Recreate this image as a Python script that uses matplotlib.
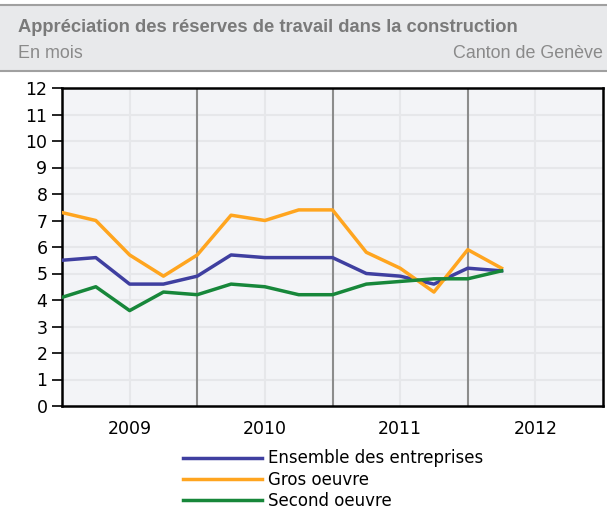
import matplotlib.pyplot as plt
from matplotlib.patches import Rectangle
from matplotlib.lines import Line2D

years = ['2009', '2010', '2011', '2012']
quarters = list(range(14))  # trimestres depuis T1 2009
ensemble = [5.5, 5.6, 4.6, 4.6, 4.9, 5.7, 5.6, 5.6, 5.6, 5.0, 4.9, 4.6, 5.2, 5.1]
gros = [7.3, 7.0, 5.7, 4.9, 5.7, 7.2, 7.0, 7.4, 7.4, 5.8, 5.2, 4.3, 5.9, 5.2]
second = [4.1, 4.5, 3.6, 4.3, 4.2, 4.6, 4.5, 4.2, 4.2, 4.6, 4.7, 4.8, 4.8, 5.1]

fig = plt.figure(figsize=(6.07, 5.09), dpi=100)

# bandeau du titre
fig.patches.append(Rectangle((0, 1 - 71 / 509), 1, 66 / 509, transform=fig.transFigure,
                             facecolor='#e8e9eb', edgecolor='none'))
fig.add_artist(Line2D([0, 1], [1 - 5 / 509] * 2, color='#a0a0a0', lw=1.5))
fig.add_artist(Line2D([0, 1], [1 - 71 / 509] * 2, color='#a0a0a0', lw=1.5))
fig.text(18 / 607, 1 - 27 / 509, 'Appréciation des réserves de travail dans la construction',
         fontsize=13.2, fontweight='bold', color='#7a7a7a', family='Liberation Sans', va='center')
fig.text(18 / 607, 1 - 53 / 509, 'En mois', fontsize=12.9, color='#8a8a8a',
         family='Liberation Sans', va='center')
fig.text(603 / 607, 1 - 53 / 509, 'Canton de Genève', fontsize=12.9, color='#8a8a8a',
         family='Liberation Sans', va='center', ha='right')

ax = fig.add_axes([62 / 607, 1 - 406 / 509, 541 / 607, 318 / 509])
ax.set_facecolor('#f3f4f7')
ax.set_xlim(0, 16)
ax.set_ylim(0, 12)

for y in range(1, 12):
    ax.axhline(y, color='#e6e7ea', lw=1.5, zorder=1)
for x in [2, 6, 10, 14]:
    ax.axvline(x, color='#e6e7ea', lw=1.5, zorder=1)
for x in [4, 8, 12]:
    ax.axvline(x, color='#8c8c8c', lw=1.5, zorder=2)

ax.plot(quarters, ensemble, color='#3f3fa0', lw=2.5, label='Ensemble des entreprises', zorder=3)
ax.plot(quarters, gros, color='#ffa51f', lw=2.5, label='Gros oeuvre', zorder=3)
ax.plot(quarters, second, color='#17873a', lw=2.5, label='Second oeuvre', zorder=3)

ax.set_yticks(range(0, 13))
ax.tick_params(axis='y', labelsize=12.5, length=7, width=1.2)
ax.set_xticks([2, 6, 10, 14])
ax.set_xticklabels(years)
ax.tick_params(axis='x', labelsize=12.5, length=0, pad=10)
for s in ax.spines.values():
    s.set_linewidth(1.8)

fig.legend(loc='upper left', bbox_to_anchor=(175 / 607, 1 - 441 / 509), frameon=False,
           fontsize=12, handlelength=4.7, handletextpad=0.35, labelspacing=0.2,
           borderpad=0)

fig.savefig('out.png', dpi=100)
